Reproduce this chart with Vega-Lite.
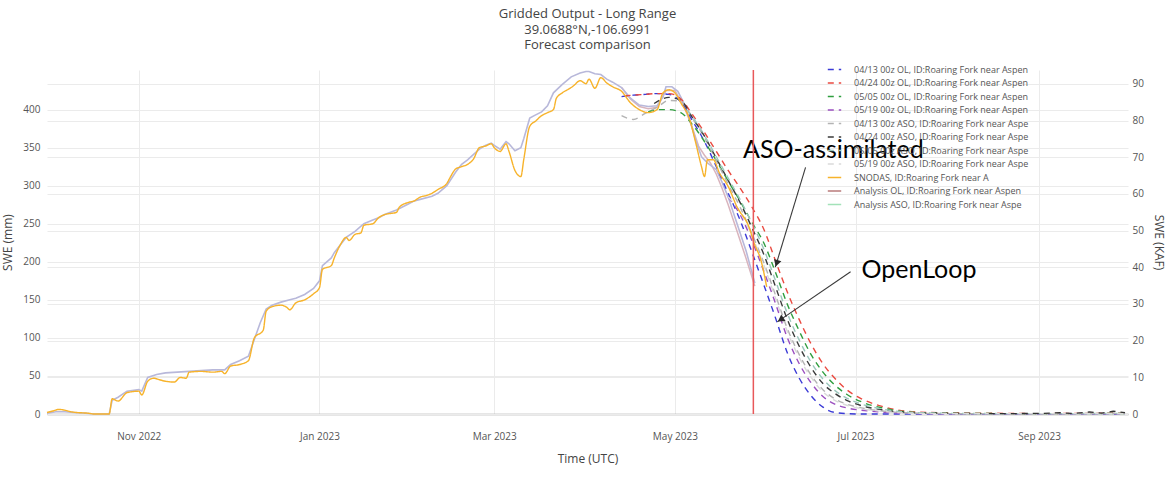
{
  "$schema": "https://vega.github.io/schema/vega-lite/v6.json",
  "width": 1081,
  "height": 344,
  "autosize": {"type": "none"},
  "padding": {"left": 47, "top": 70, "right": 40, "bottom": 63},
  "background": "white",
  "title": {
    "text": ["Gridded Output - Long Range", "39.0688°N,-106.6991", "Forecast comparison"],
    "font": "Open Sans", "fontSize": 13, "fontWeight": "normal", "color": "#444",
    "anchor": "middle", "lineHeight": 15.5, "offset": 8
  },
  "config": {
    "view": {"stroke": null},
    "axis": {
      "domain": false, "ticks": false,
      "labelFont": "Open Sans", "labelFontSize": 10, "labelColor": "#555",
      "titleFont": "Open Sans", "titleFontSize": 12, "titleFontWeight": "normal", "titleColor": "#444",
      "gridColor": "#ebebeb", "gridWidth": 1
    }
  },
  "datasets": {
    "main": [
      {"series": "04/13 00z OL, ID:Roaring Fork near Aspen", "date": "2023-04-13", "swe": 417},
      {"series": "04/13 00z OL, ID:Roaring Fork near Aspen", "date": "2023-04-17", "swe": 419},
      {"series": "04/13 00z OL, ID:Roaring Fork near Aspen", "date": "2023-04-21", "swe": 420},
      {"series": "04/13 00z OL, ID:Roaring Fork near Aspen", "date": "2023-04-25", "swe": 421},
      {"series": "04/13 00z OL, ID:Roaring Fork near Aspen", "date": "2023-04-29", "swe": 420},
      {"series": "04/13 00z OL, ID:Roaring Fork near Aspen", "date": "2023-05-03", "swe": 410},
      {"series": "04/13 00z OL, ID:Roaring Fork near Aspen", "date": "2023-05-07", "swe": 385},
      {"series": "04/13 00z OL, ID:Roaring Fork near Aspen", "date": "2023-05-11", "swe": 358},
      {"series": "04/13 00z OL, ID:Roaring Fork near Aspen", "date": "2023-05-15", "swe": 325},
      {"series": "04/13 00z OL, ID:Roaring Fork near Aspen", "date": "2023-05-19", "swe": 290},
      {"series": "04/13 00z OL, ID:Roaring Fork near Aspen", "date": "2023-05-23", "swe": 255},
      {"series": "04/13 00z OL, ID:Roaring Fork near Aspen", "date": "2023-05-27", "swe": 213},
      {"series": "04/13 00z OL, ID:Roaring Fork near Aspen", "date": "2023-05-31", "swe": 170},
      {"series": "04/13 00z OL, ID:Roaring Fork near Aspen", "date": "2023-06-04", "swe": 126},
      {"series": "04/13 00z OL, ID:Roaring Fork near Aspen", "date": "2023-06-08", "swe": 80},
      {"series": "04/13 00z OL, ID:Roaring Fork near Aspen", "date": "2023-06-12", "swe": 47},
      {"series": "04/13 00z OL, ID:Roaring Fork near Aspen", "date": "2023-06-16", "swe": 24},
      {"series": "04/13 00z OL, ID:Roaring Fork near Aspen", "date": "2023-06-20", "swe": 9},
      {"series": "04/13 00z OL, ID:Roaring Fork near Aspen", "date": "2023-06-24", "swe": 2},
      {"series": "04/13 00z OL, ID:Roaring Fork near Aspen", "date": "2023-06-28", "swe": 0.5},
      {"series": "04/13 00z OL, ID:Roaring Fork near Aspen", "date": "2023-07-03", "swe": 0},
      {"series": "04/13 00z OL, ID:Roaring Fork near Aspen", "date": "2023-07-20", "swe": 0},
      {"series": "04/13 00z OL, ID:Roaring Fork near Aspen", "date": "2023-08-15", "swe": 0},
      {"series": "04/13 00z OL, ID:Roaring Fork near Aspen", "date": "2023-09-30", "swe": 0},

      {"series": "04/24 00z OL, ID:Roaring Fork near Aspen", "date": "2023-04-14", "swe": 418},
      {"series": "04/24 00z OL, ID:Roaring Fork near Aspen", "date": "2023-04-17", "swe": 419},
      {"series": "04/24 00z OL, ID:Roaring Fork near Aspen", "date": "2023-04-21", "swe": 420},
      {"series": "04/24 00z OL, ID:Roaring Fork near Aspen", "date": "2023-04-25", "swe": 421},
      {"series": "04/24 00z OL, ID:Roaring Fork near Aspen", "date": "2023-04-29", "swe": 421},
      {"series": "04/24 00z OL, ID:Roaring Fork near Aspen", "date": "2023-05-03", "swe": 414},
      {"series": "04/24 00z OL, ID:Roaring Fork near Aspen", "date": "2023-05-07", "swe": 393},
      {"series": "04/24 00z OL, ID:Roaring Fork near Aspen", "date": "2023-05-11", "swe": 370},
      {"series": "04/24 00z OL, ID:Roaring Fork near Aspen", "date": "2023-05-15", "swe": 345},
      {"series": "04/24 00z OL, ID:Roaring Fork near Aspen", "date": "2023-05-19", "swe": 320},
      {"series": "04/24 00z OL, ID:Roaring Fork near Aspen", "date": "2023-05-23", "swe": 297},
      {"series": "04/24 00z OL, ID:Roaring Fork near Aspen", "date": "2023-05-27", "swe": 272},
      {"series": "04/24 00z OL, ID:Roaring Fork near Aspen", "date": "2023-05-31", "swe": 243},
      {"series": "04/24 00z OL, ID:Roaring Fork near Aspen", "date": "2023-06-04", "swe": 201},
      {"series": "04/24 00z OL, ID:Roaring Fork near Aspen", "date": "2023-06-08", "swe": 160},
      {"series": "04/24 00z OL, ID:Roaring Fork near Aspen", "date": "2023-06-12", "swe": 124},
      {"series": "04/24 00z OL, ID:Roaring Fork near Aspen", "date": "2023-06-16", "swe": 92},
      {"series": "04/24 00z OL, ID:Roaring Fork near Aspen", "date": "2023-06-20", "swe": 66},
      {"series": "04/24 00z OL, ID:Roaring Fork near Aspen", "date": "2023-06-24", "swe": 47},
      {"series": "04/24 00z OL, ID:Roaring Fork near Aspen", "date": "2023-06-28", "swe": 32},
      {"series": "04/24 00z OL, ID:Roaring Fork near Aspen", "date": "2023-07-03", "swe": 20},
      {"series": "04/24 00z OL, ID:Roaring Fork near Aspen", "date": "2023-07-10", "swe": 10},
      {"series": "04/24 00z OL, ID:Roaring Fork near Aspen", "date": "2023-07-20", "swe": 3},
      {"series": "04/24 00z OL, ID:Roaring Fork near Aspen", "date": "2023-08-01", "swe": 1.5},
      {"series": "04/24 00z OL, ID:Roaring Fork near Aspen", "date": "2023-08-15", "swe": 1},
      {"series": "04/24 00z OL, ID:Roaring Fork near Aspen", "date": "2023-09-01", "swe": 0.5},
      {"series": "04/24 00z OL, ID:Roaring Fork near Aspen", "date": "2023-09-15", "swe": 0.8},
      {"series": "04/24 00z OL, ID:Roaring Fork near Aspen", "date": "2023-09-30", "swe": 1},

      {"series": "05/05 00z OL, ID:Roaring Fork near Aspen", "date": "2023-04-22", "swe": 397},
      {"series": "05/05 00z OL, ID:Roaring Fork near Aspen", "date": "2023-04-25", "swe": 400},
      {"series": "05/05 00z OL, ID:Roaring Fork near Aspen", "date": "2023-04-29", "swe": 400},
      {"series": "05/05 00z OL, ID:Roaring Fork near Aspen", "date": "2023-05-03", "swe": 396},
      {"series": "05/05 00z OL, ID:Roaring Fork near Aspen", "date": "2023-05-07", "swe": 380},
      {"series": "05/05 00z OL, ID:Roaring Fork near Aspen", "date": "2023-05-11", "swe": 358},
      {"series": "05/05 00z OL, ID:Roaring Fork near Aspen", "date": "2023-05-15", "swe": 333},
      {"series": "05/05 00z OL, ID:Roaring Fork near Aspen", "date": "2023-05-19", "swe": 306},
      {"series": "05/05 00z OL, ID:Roaring Fork near Aspen", "date": "2023-05-23", "swe": 280},
      {"series": "05/05 00z OL, ID:Roaring Fork near Aspen", "date": "2023-05-27", "swe": 252},
      {"series": "05/05 00z OL, ID:Roaring Fork near Aspen", "date": "2023-05-31", "swe": 225},
      {"series": "05/05 00z OL, ID:Roaring Fork near Aspen", "date": "2023-06-04", "swe": 186},
      {"series": "05/05 00z OL, ID:Roaring Fork near Aspen", "date": "2023-06-08", "swe": 144},
      {"series": "05/05 00z OL, ID:Roaring Fork near Aspen", "date": "2023-06-12", "swe": 109},
      {"series": "05/05 00z OL, ID:Roaring Fork near Aspen", "date": "2023-06-16", "swe": 78},
      {"series": "05/05 00z OL, ID:Roaring Fork near Aspen", "date": "2023-06-20", "swe": 55},
      {"series": "05/05 00z OL, ID:Roaring Fork near Aspen", "date": "2023-06-24", "swe": 38},
      {"series": "05/05 00z OL, ID:Roaring Fork near Aspen", "date": "2023-06-28", "swe": 26},
      {"series": "05/05 00z OL, ID:Roaring Fork near Aspen", "date": "2023-07-03", "swe": 16},
      {"series": "05/05 00z OL, ID:Roaring Fork near Aspen", "date": "2023-07-10", "swe": 8},
      {"series": "05/05 00z OL, ID:Roaring Fork near Aspen", "date": "2023-07-20", "swe": 2.4},
      {"series": "05/05 00z OL, ID:Roaring Fork near Aspen", "date": "2023-08-01", "swe": 1},
      {"series": "05/05 00z OL, ID:Roaring Fork near Aspen", "date": "2023-08-15", "swe": 0.6},
      {"series": "05/05 00z OL, ID:Roaring Fork near Aspen", "date": "2023-09-01", "swe": 0.4},
      {"series": "05/05 00z OL, ID:Roaring Fork near Aspen", "date": "2023-09-15", "swe": 0.5},
      {"series": "05/05 00z OL, ID:Roaring Fork near Aspen", "date": "2023-09-30", "swe": 0.6},

      {"series": "05/19 00z OL, ID:Roaring Fork near Aspen", "date": "2023-05-19", "swe": 285},
      {"series": "05/19 00z OL, ID:Roaring Fork near Aspen", "date": "2023-05-23", "swe": 262},
      {"series": "05/19 00z OL, ID:Roaring Fork near Aspen", "date": "2023-05-27", "swe": 228},
      {"series": "05/19 00z OL, ID:Roaring Fork near Aspen", "date": "2023-05-31", "swe": 188},
      {"series": "05/19 00z OL, ID:Roaring Fork near Aspen", "date": "2023-06-04", "swe": 145},
      {"series": "05/19 00z OL, ID:Roaring Fork near Aspen", "date": "2023-06-08", "swe": 100},
      {"series": "05/19 00z OL, ID:Roaring Fork near Aspen", "date": "2023-06-12", "swe": 66},
      {"series": "05/19 00z OL, ID:Roaring Fork near Aspen", "date": "2023-06-16", "swe": 41},
      {"series": "05/19 00z OL, ID:Roaring Fork near Aspen", "date": "2023-06-20", "swe": 23},
      {"series": "05/19 00z OL, ID:Roaring Fork near Aspen", "date": "2023-06-24", "swe": 13},
      {"series": "05/19 00z OL, ID:Roaring Fork near Aspen", "date": "2023-06-28", "swe": 8},
      {"series": "05/19 00z OL, ID:Roaring Fork near Aspen", "date": "2023-07-03", "swe": 5},
      {"series": "05/19 00z OL, ID:Roaring Fork near Aspen", "date": "2023-07-10", "swe": 2.5},
      {"series": "05/19 00z OL, ID:Roaring Fork near Aspen", "date": "2023-07-20", "swe": 0.8},
      {"series": "05/19 00z OL, ID:Roaring Fork near Aspen", "date": "2023-08-01", "swe": 0.3},
      {"series": "05/19 00z OL, ID:Roaring Fork near Aspen", "date": "2023-08-15", "swe": 0.2},
      {"series": "05/19 00z OL, ID:Roaring Fork near Aspen", "date": "2023-09-01", "swe": 0.2},
      {"series": "05/19 00z OL, ID:Roaring Fork near Aspen", "date": "2023-09-30", "swe": 0.3},

      {"series": "04/13 00z ASO, ID:Roaring Fork near Aspe", "date": "2023-04-13", "swe": 392},
      {"series": "04/13 00z ASO, ID:Roaring Fork near Aspe", "date": "2023-04-17", "swe": 387},
      {"series": "04/13 00z ASO, ID:Roaring Fork near Aspe", "date": "2023-04-21", "swe": 395},
      {"series": "04/13 00z ASO, ID:Roaring Fork near Aspe", "date": "2023-04-25", "swe": 403},
      {"series": "04/13 00z ASO, ID:Roaring Fork near Aspe", "date": "2023-04-29", "swe": 412},
      {"series": "04/13 00z ASO, ID:Roaring Fork near Aspe", "date": "2023-05-03", "swe": 411},
      {"series": "04/13 00z ASO, ID:Roaring Fork near Aspe", "date": "2023-05-07", "swe": 388},
      {"series": "04/13 00z ASO, ID:Roaring Fork near Aspe", "date": "2023-05-11", "swe": 363},
      {"series": "04/13 00z ASO, ID:Roaring Fork near Aspe", "date": "2023-05-15", "swe": 333},
      {"series": "04/13 00z ASO, ID:Roaring Fork near Aspe", "date": "2023-05-19", "swe": 302},
      {"series": "04/13 00z ASO, ID:Roaring Fork near Aspe", "date": "2023-05-23", "swe": 272},
      {"series": "04/13 00z ASO, ID:Roaring Fork near Aspe", "date": "2023-05-27", "swe": 237},
      {"series": "04/13 00z ASO, ID:Roaring Fork near Aspe", "date": "2023-05-31", "swe": 199},
      {"series": "04/13 00z ASO, ID:Roaring Fork near Aspe", "date": "2023-06-04", "swe": 156},
      {"series": "04/13 00z ASO, ID:Roaring Fork near Aspe", "date": "2023-06-08", "swe": 112},
      {"series": "04/13 00z ASO, ID:Roaring Fork near Aspe", "date": "2023-06-12", "swe": 78},
      {"series": "04/13 00z ASO, ID:Roaring Fork near Aspe", "date": "2023-06-16", "swe": 51},
      {"series": "04/13 00z ASO, ID:Roaring Fork near Aspe", "date": "2023-06-20", "swe": 32},
      {"series": "04/13 00z ASO, ID:Roaring Fork near Aspe", "date": "2023-06-24", "swe": 20},
      {"series": "04/13 00z ASO, ID:Roaring Fork near Aspe", "date": "2023-06-28", "swe": 13},
      {"series": "04/13 00z ASO, ID:Roaring Fork near Aspe", "date": "2023-07-03", "swe": 8},
      {"series": "04/13 00z ASO, ID:Roaring Fork near Aspe", "date": "2023-07-10", "swe": 4},
      {"series": "04/13 00z ASO, ID:Roaring Fork near Aspe", "date": "2023-07-20", "swe": 1.2},
      {"series": "04/13 00z ASO, ID:Roaring Fork near Aspe", "date": "2023-08-01", "swe": 0.5},
      {"series": "04/13 00z ASO, ID:Roaring Fork near Aspe", "date": "2023-08-15", "swe": 0.3},
      {"series": "04/13 00z ASO, ID:Roaring Fork near Aspe", "date": "2023-09-01", "swe": 0.3},
      {"series": "04/13 00z ASO, ID:Roaring Fork near Aspe", "date": "2023-09-30", "swe": 0.5},

      {"series": "04/24 00z ASO, ID:Roaring Fork near Aspe", "date": "2023-04-24", "swe": 408},
      {"series": "04/24 00z ASO, ID:Roaring Fork near Aspe", "date": "2023-04-29", "swe": 416},
      {"series": "04/24 00z ASO, ID:Roaring Fork near Aspe", "date": "2023-05-03", "swe": 412},
      {"series": "04/24 00z ASO, ID:Roaring Fork near Aspe", "date": "2023-05-07", "swe": 389},
      {"series": "04/24 00z ASO, ID:Roaring Fork near Aspe", "date": "2023-05-11", "swe": 365},
      {"series": "04/24 00z ASO, ID:Roaring Fork near Aspe", "date": "2023-05-15", "swe": 336},
      {"series": "04/24 00z ASO, ID:Roaring Fork near Aspe", "date": "2023-05-19", "swe": 307},
      {"series": "04/24 00z ASO, ID:Roaring Fork near Aspe", "date": "2023-05-23", "swe": 278},
      {"series": "04/24 00z ASO, ID:Roaring Fork near Aspe", "date": "2023-05-27", "swe": 245},
      {"series": "04/24 00z ASO, ID:Roaring Fork near Aspe", "date": "2023-05-31", "swe": 210},
      {"series": "04/24 00z ASO, ID:Roaring Fork near Aspe", "date": "2023-06-04", "swe": 167},
      {"series": "04/24 00z ASO, ID:Roaring Fork near Aspe", "date": "2023-06-08", "swe": 124},
      {"series": "04/24 00z ASO, ID:Roaring Fork near Aspe", "date": "2023-06-12", "swe": 89},
      {"series": "04/24 00z ASO, ID:Roaring Fork near Aspe", "date": "2023-06-16", "swe": 61},
      {"series": "04/24 00z ASO, ID:Roaring Fork near Aspe", "date": "2023-06-20", "swe": 40},
      {"series": "04/24 00z ASO, ID:Roaring Fork near Aspe", "date": "2023-06-24", "swe": 27},
      {"series": "04/24 00z ASO, ID:Roaring Fork near Aspe", "date": "2023-06-28", "swe": 18},
      {"series": "04/24 00z ASO, ID:Roaring Fork near Aspe", "date": "2023-07-03", "swe": 11},
      {"series": "04/24 00z ASO, ID:Roaring Fork near Aspe", "date": "2023-07-10", "swe": 5.5},
      {"series": "04/24 00z ASO, ID:Roaring Fork near Aspe", "date": "2023-07-20", "swe": 1.7},
      {"series": "04/24 00z ASO, ID:Roaring Fork near Aspe", "date": "2023-08-01", "swe": 0.8},
      {"series": "04/24 00z ASO, ID:Roaring Fork near Aspe", "date": "2023-08-15", "swe": 0.5},

      {"series": "05/05 00z ASO, ID:Roaring Fork near Aspe", "date": "2023-05-05", "swe": 400},
      {"series": "05/05 00z ASO, ID:Roaring Fork near Aspe", "date": "2023-05-07", "swe": 390},
      {"series": "05/05 00z ASO, ID:Roaring Fork near Aspe", "date": "2023-05-11", "swe": 366},
      {"series": "05/05 00z ASO, ID:Roaring Fork near Aspe", "date": "2023-05-15", "swe": 338},
      {"series": "05/05 00z ASO, ID:Roaring Fork near Aspe", "date": "2023-05-19", "swe": 310},
      {"series": "05/05 00z ASO, ID:Roaring Fork near Aspe", "date": "2023-05-23", "swe": 282},
      {"series": "05/05 00z ASO, ID:Roaring Fork near Aspe", "date": "2023-05-27", "swe": 251},
      {"series": "05/05 00z ASO, ID:Roaring Fork near Aspe", "date": "2023-05-31", "swe": 217},
      {"series": "05/05 00z ASO, ID:Roaring Fork near Aspe", "date": "2023-06-04", "swe": 175},
      {"series": "05/05 00z ASO, ID:Roaring Fork near Aspe", "date": "2023-06-08", "swe": 132},
      {"series": "05/05 00z ASO, ID:Roaring Fork near Aspe", "date": "2023-06-12", "swe": 97},
      {"series": "05/05 00z ASO, ID:Roaring Fork near Aspe", "date": "2023-06-16", "swe": 68},
      {"series": "05/05 00z ASO, ID:Roaring Fork near Aspe", "date": "2023-06-20", "swe": 46},
      {"series": "05/05 00z ASO, ID:Roaring Fork near Aspe", "date": "2023-06-24", "swe": 31},
      {"series": "05/05 00z ASO, ID:Roaring Fork near Aspe", "date": "2023-06-28", "swe": 21},
      {"series": "05/05 00z ASO, ID:Roaring Fork near Aspe", "date": "2023-07-03", "swe": 13},
      {"series": "05/05 00z ASO, ID:Roaring Fork near Aspe", "date": "2023-07-10", "swe": 6.5},
      {"series": "05/05 00z ASO, ID:Roaring Fork near Aspe", "date": "2023-07-20", "swe": 2},
      {"series": "05/05 00z ASO, ID:Roaring Fork near Aspe", "date": "2023-08-01", "swe": 0.9},
      {"series": "05/05 00z ASO, ID:Roaring Fork near Aspe", "date": "2023-08-15", "swe": 0.6},
      {"series": "05/05 00z ASO, ID:Roaring Fork near Aspe", "date": "2023-09-01", "swe": 0.5},
      {"series": "05/05 00z ASO, ID:Roaring Fork near Aspe", "date": "2023-09-30", "swe": 0.7},

      {"series": "05/19 00z ASO, ID:Roaring Fork near Aspe", "date": "2023-05-19", "swe": 285},
      {"series": "05/19 00z ASO, ID:Roaring Fork near Aspe", "date": "2023-05-23", "swe": 266},
      {"series": "05/19 00z ASO, ID:Roaring Fork near Aspe", "date": "2023-05-27", "swe": 234},
      {"series": "05/19 00z ASO, ID:Roaring Fork near Aspe", "date": "2023-05-31", "swe": 196},
      {"series": "05/19 00z ASO, ID:Roaring Fork near Aspe", "date": "2023-06-04", "swe": 152},
      {"series": "05/19 00z ASO, ID:Roaring Fork near Aspe", "date": "2023-06-08", "swe": 108},
      {"series": "05/19 00z ASO, ID:Roaring Fork near Aspe", "date": "2023-06-12", "swe": 74},
      {"series": "05/19 00z ASO, ID:Roaring Fork near Aspe", "date": "2023-06-16", "swe": 48},
      {"series": "05/19 00z ASO, ID:Roaring Fork near Aspe", "date": "2023-06-20", "swe": 29},
      {"series": "05/19 00z ASO, ID:Roaring Fork near Aspe", "date": "2023-06-24", "swe": 18},
      {"series": "05/19 00z ASO, ID:Roaring Fork near Aspe", "date": "2023-06-28", "swe": 11.5},
      {"series": "05/19 00z ASO, ID:Roaring Fork near Aspe", "date": "2023-07-03", "swe": 7},
      {"series": "05/19 00z ASO, ID:Roaring Fork near Aspe", "date": "2023-07-10", "swe": 3.5},
      {"series": "05/19 00z ASO, ID:Roaring Fork near Aspe", "date": "2023-07-20", "swe": 1},
      {"series": "05/19 00z ASO, ID:Roaring Fork near Aspe", "date": "2023-08-01", "swe": 0.4},
      {"series": "05/19 00z ASO, ID:Roaring Fork near Aspe", "date": "2023-08-15", "swe": 0.3},
      {"series": "05/19 00z ASO, ID:Roaring Fork near Aspe", "date": "2023-09-01", "swe": 0.3},
      {"series": "05/19 00z ASO, ID:Roaring Fork near Aspe", "date": "2023-09-30", "swe": 0.4},

      {"series": "SNODAS, ID:Roaring Fork near A", "date": "2022-10-01", "swe": 2},
      {"series": "SNODAS, ID:Roaring Fork near A", "date": "2022-10-03", "swe": 4},
      {"series": "SNODAS, ID:Roaring Fork near A", "date": "2022-10-05", "swe": 6},
      {"series": "SNODAS, ID:Roaring Fork near A", "date": "2022-10-07", "swe": 5},
      {"series": "SNODAS, ID:Roaring Fork near A", "date": "2022-10-09", "swe": 3},
      {"series": "SNODAS, ID:Roaring Fork near A", "date": "2022-10-11", "swe": 2},
      {"series": "SNODAS, ID:Roaring Fork near A", "date": "2022-10-13", "swe": 1.5},
      {"series": "SNODAS, ID:Roaring Fork near A", "date": "2022-10-15", "swe": 1},
      {"series": "SNODAS, ID:Roaring Fork near A", "date": "2022-10-17", "swe": 0},
      {"series": "SNODAS, ID:Roaring Fork near A", "date": "2022-10-22", "swe": 0},
      {"series": "SNODAS, ID:Roaring Fork near A", "date": "2022-10-23", "swe": 20},
      {"series": "SNODAS, ID:Roaring Fork near A", "date": "2022-10-25", "swe": 17},
      {"series": "SNODAS, ID:Roaring Fork near A", "date": "2022-10-28", "swe": 28},
      {"series": "SNODAS, ID:Roaring Fork near A", "date": "2022-11-01", "swe": 30},
      {"series": "SNODAS, ID:Roaring Fork near A", "date": "2022-11-02", "swe": 25},
      {"series": "SNODAS, ID:Roaring Fork near A", "date": "2022-11-04", "swe": 43},
      {"series": "SNODAS, ID:Roaring Fork near A", "date": "2022-11-06", "swe": 47},
      {"series": "SNODAS, ID:Roaring Fork near A", "date": "2022-11-08", "swe": 45},
      {"series": "SNODAS, ID:Roaring Fork near A", "date": "2022-11-10", "swe": 43},
      {"series": "SNODAS, ID:Roaring Fork near A", "date": "2022-11-13", "swe": 42},
      {"series": "SNODAS, ID:Roaring Fork near A", "date": "2022-11-15", "swe": 48},
      {"series": "SNODAS, ID:Roaring Fork near A", "date": "2022-11-17", "swe": 47},
      {"series": "SNODAS, ID:Roaring Fork near A", "date": "2022-11-18", "swe": 55},
      {"series": "SNODAS, ID:Roaring Fork near A", "date": "2022-11-22", "swe": 56},
      {"series": "SNODAS, ID:Roaring Fork near A", "date": "2022-11-26", "swe": 55},
      {"series": "SNODAS, ID:Roaring Fork near A", "date": "2022-11-29", "swe": 56},
      {"series": "SNODAS, ID:Roaring Fork near A", "date": "2022-11-30", "swe": 53},
      {"series": "SNODAS, ID:Roaring Fork near A", "date": "2022-12-02", "swe": 63},
      {"series": "SNODAS, ID:Roaring Fork near A", "date": "2022-12-05", "swe": 65},
      {"series": "SNODAS, ID:Roaring Fork near A", "date": "2022-12-08", "swe": 70},
      {"series": "SNODAS, ID:Roaring Fork near A", "date": "2022-12-10", "swe": 100},
      {"series": "SNODAS, ID:Roaring Fork near A", "date": "2022-12-13", "swe": 110},
      {"series": "SNODAS, ID:Roaring Fork near A", "date": "2022-12-14", "swe": 135},
      {"series": "SNODAS, ID:Roaring Fork near A", "date": "2022-12-16", "swe": 141},
      {"series": "SNODAS, ID:Roaring Fork near A", "date": "2022-12-19", "swe": 143},
      {"series": "SNODAS, ID:Roaring Fork near A", "date": "2022-12-21", "swe": 140},
      {"series": "SNODAS, ID:Roaring Fork near A", "date": "2022-12-22", "swe": 137},
      {"series": "SNODAS, ID:Roaring Fork near A", "date": "2022-12-24", "swe": 146},
      {"series": "SNODAS, ID:Roaring Fork near A", "date": "2022-12-27", "swe": 150},
      {"series": "SNODAS, ID:Roaring Fork near A", "date": "2022-12-30", "swe": 158},
      {"series": "SNODAS, ID:Roaring Fork near A", "date": "2023-01-01", "swe": 166},
      {"series": "SNODAS, ID:Roaring Fork near A", "date": "2023-01-02", "swe": 190},
      {"series": "SNODAS, ID:Roaring Fork near A", "date": "2023-01-05", "swe": 195},
      {"series": "SNODAS, ID:Roaring Fork near A", "date": "2023-01-06", "swe": 205},
      {"series": "SNODAS, ID:Roaring Fork near A", "date": "2023-01-08", "swe": 222},
      {"series": "SNODAS, ID:Roaring Fork near A", "date": "2023-01-10", "swe": 232},
      {"series": "SNODAS, ID:Roaring Fork near A", "date": "2023-01-11", "swe": 228},
      {"series": "SNODAS, ID:Roaring Fork near A", "date": "2023-01-13", "swe": 236},
      {"series": "SNODAS, ID:Roaring Fork near A", "date": "2023-01-15", "swe": 238},
      {"series": "SNODAS, ID:Roaring Fork near A", "date": "2023-01-16", "swe": 248},
      {"series": "SNODAS, ID:Roaring Fork near A", "date": "2023-01-19", "swe": 250},
      {"series": "SNODAS, ID:Roaring Fork near A", "date": "2023-01-21", "swe": 258},
      {"series": "SNODAS, ID:Roaring Fork near A", "date": "2023-01-23", "swe": 262},
      {"series": "SNODAS, ID:Roaring Fork near A", "date": "2023-01-27", "swe": 265},
      {"series": "SNODAS, ID:Roaring Fork near A", "date": "2023-01-28", "swe": 272},
      {"series": "SNODAS, ID:Roaring Fork near A", "date": "2023-01-31", "swe": 278},
      {"series": "SNODAS, ID:Roaring Fork near A", "date": "2023-02-02", "swe": 280},
      {"series": "SNODAS, ID:Roaring Fork near A", "date": "2023-02-04", "swe": 285},
      {"series": "SNODAS, ID:Roaring Fork near A", "date": "2023-02-06", "swe": 287},
      {"series": "SNODAS, ID:Roaring Fork near A", "date": "2023-02-08", "swe": 290},
      {"series": "SNODAS, ID:Roaring Fork near A", "date": "2023-02-10", "swe": 295},
      {"series": "SNODAS, ID:Roaring Fork near A", "date": "2023-02-13", "swe": 303},
      {"series": "SNODAS, ID:Roaring Fork near A", "date": "2023-02-14", "swe": 310},
      {"series": "SNODAS, ID:Roaring Fork near A", "date": "2023-02-16", "swe": 322},
      {"series": "SNODAS, ID:Roaring Fork near A", "date": "2023-02-18", "swe": 325},
      {"series": "SNODAS, ID:Roaring Fork near A", "date": "2023-02-20", "swe": 328},
      {"series": "SNODAS, ID:Roaring Fork near A", "date": "2023-02-22", "swe": 335},
      {"series": "SNODAS, ID:Roaring Fork near A", "date": "2023-02-24", "swe": 350},
      {"series": "SNODAS, ID:Roaring Fork near A", "date": "2023-02-26", "swe": 352},
      {"series": "SNODAS, ID:Roaring Fork near A", "date": "2023-02-28", "swe": 355},
      {"series": "SNODAS, ID:Roaring Fork near A", "date": "2023-03-01", "swe": 350},
      {"series": "SNODAS, ID:Roaring Fork near A", "date": "2023-03-03", "swe": 345},
      {"series": "SNODAS, ID:Roaring Fork near A", "date": "2023-03-05", "swe": 355},
      {"series": "SNODAS, ID:Roaring Fork near A", "date": "2023-03-06", "swe": 345},
      {"series": "SNODAS, ID:Roaring Fork near A", "date": "2023-03-08", "swe": 320},
      {"series": "SNODAS, ID:Roaring Fork near A", "date": "2023-03-10", "swe": 312},
      {"series": "SNODAS, ID:Roaring Fork near A", "date": "2023-03-11", "swe": 335},
      {"series": "SNODAS, ID:Roaring Fork near A", "date": "2023-03-13", "swe": 378},
      {"series": "SNODAS, ID:Roaring Fork near A", "date": "2023-03-15", "swe": 385},
      {"series": "SNODAS, ID:Roaring Fork near A", "date": "2023-03-17", "swe": 392},
      {"series": "SNODAS, ID:Roaring Fork near A", "date": "2023-03-19", "swe": 396},
      {"series": "SNODAS, ID:Roaring Fork near A", "date": "2023-03-21", "swe": 400},
      {"series": "SNODAS, ID:Roaring Fork near A", "date": "2023-03-22", "swe": 415},
      {"series": "SNODAS, ID:Roaring Fork near A", "date": "2023-03-24", "swe": 422},
      {"series": "SNODAS, ID:Roaring Fork near A", "date": "2023-03-27", "swe": 429},
      {"series": "SNODAS, ID:Roaring Fork near A", "date": "2023-03-28", "swe": 432},
      {"series": "SNODAS, ID:Roaring Fork near A", "date": "2023-03-30", "swe": 438},
      {"series": "SNODAS, ID:Roaring Fork near A", "date": "2023-04-01", "swe": 434},
      {"series": "SNODAS, ID:Roaring Fork near A", "date": "2023-04-02", "swe": 440},
      {"series": "SNODAS, ID:Roaring Fork near A", "date": "2023-04-04", "swe": 428},
      {"series": "SNODAS, ID:Roaring Fork near A", "date": "2023-04-06", "swe": 442},
      {"series": "SNODAS, ID:Roaring Fork near A", "date": "2023-04-08", "swe": 435},
      {"series": "SNODAS, ID:Roaring Fork near A", "date": "2023-04-10", "swe": 430},
      {"series": "SNODAS, ID:Roaring Fork near A", "date": "2023-04-13", "swe": 424},
      {"series": "SNODAS, ID:Roaring Fork near A", "date": "2023-04-16", "swe": 409},
      {"series": "SNODAS, ID:Roaring Fork near A", "date": "2023-04-19", "swe": 400},
      {"series": "SNODAS, ID:Roaring Fork near A", "date": "2023-04-22", "swe": 396},
      {"series": "SNODAS, ID:Roaring Fork near A", "date": "2023-04-25", "swe": 400},
      {"series": "SNODAS, ID:Roaring Fork near A", "date": "2023-04-27", "swe": 422},
      {"series": "SNODAS, ID:Roaring Fork near A", "date": "2023-04-29", "swe": 426},
      {"series": "SNODAS, ID:Roaring Fork near A", "date": "2023-05-01", "swe": 422},
      {"series": "SNODAS, ID:Roaring Fork near A", "date": "2023-05-03", "swe": 409},
      {"series": "SNODAS, ID:Roaring Fork near A", "date": "2023-05-06", "swe": 387},
      {"series": "SNODAS, ID:Roaring Fork near A", "date": "2023-05-08", "swe": 357},
      {"series": "SNODAS, ID:Roaring Fork near A", "date": "2023-05-10", "swe": 325},
      {"series": "SNODAS, ID:Roaring Fork near A", "date": "2023-05-11", "swe": 312},
      {"series": "SNODAS, ID:Roaring Fork near A", "date": "2023-05-12", "swe": 334},
      {"series": "SNODAS, ID:Roaring Fork near A", "date": "2023-05-14", "swe": 334},
      {"series": "SNODAS, ID:Roaring Fork near A", "date": "2023-05-16", "swe": 317},
      {"series": "SNODAS, ID:Roaring Fork near A", "date": "2023-05-19", "swe": 299},
      {"series": "SNODAS, ID:Roaring Fork near A", "date": "2023-05-22", "swe": 272},
      {"series": "SNODAS, ID:Roaring Fork near A", "date": "2023-05-26", "swe": 246},
      {"series": "SNODAS, ID:Roaring Fork near A", "date": "2023-05-28", "swe": 222},
      {"series": "SNODAS, ID:Roaring Fork near A", "date": "2023-05-30", "swe": 203},
      {"series": "SNODAS, ID:Roaring Fork near A", "date": "2023-06-01", "swe": 167}
    ],
    "analysisASO": [
      {"series": "Analysis ASO, ID:Roaring Fork near Aspe", "date": "2022-10-01", "swe": 1},
      {"series": "Analysis ASO, ID:Roaring Fork near Aspe", "date": "2022-10-04", "swe": 3},
      {"series": "Analysis ASO, ID:Roaring Fork near Aspe", "date": "2022-10-07", "swe": 3},
      {"series": "Analysis ASO, ID:Roaring Fork near Aspe", "date": "2022-10-10", "swe": 2},
      {"series": "Analysis ASO, ID:Roaring Fork near Aspe", "date": "2022-10-14", "swe": 1},
      {"series": "Analysis ASO, ID:Roaring Fork near Aspe", "date": "2022-10-17", "swe": 0},
      {"series": "Analysis ASO, ID:Roaring Fork near Aspe", "date": "2022-10-22", "swe": 0},
      {"series": "Analysis ASO, ID:Roaring Fork near Aspe", "date": "2022-10-23", "swe": 18},
      {"series": "Analysis ASO, ID:Roaring Fork near Aspe", "date": "2022-10-25", "swe": 22},
      {"series": "Analysis ASO, ID:Roaring Fork near Aspe", "date": "2022-10-28", "swe": 30},
      {"series": "Analysis ASO, ID:Roaring Fork near Aspe", "date": "2022-11-01", "swe": 32},
      {"series": "Analysis ASO, ID:Roaring Fork near Aspe", "date": "2022-11-02", "swe": 30},
      {"series": "Analysis ASO, ID:Roaring Fork near Aspe", "date": "2022-11-04", "swe": 48},
      {"series": "Analysis ASO, ID:Roaring Fork near Aspe", "date": "2022-11-07", "swe": 52},
      {"series": "Analysis ASO, ID:Roaring Fork near Aspe", "date": "2022-11-10", "swe": 54},
      {"series": "Analysis ASO, ID:Roaring Fork near Aspe", "date": "2022-11-14", "swe": 55},
      {"series": "Analysis ASO, ID:Roaring Fork near Aspe", "date": "2022-11-18", "swe": 56},
      {"series": "Analysis ASO, ID:Roaring Fork near Aspe", "date": "2022-11-22", "swe": 57},
      {"series": "Analysis ASO, ID:Roaring Fork near Aspe", "date": "2022-11-26", "swe": 58},
      {"series": "Analysis ASO, ID:Roaring Fork near Aspe", "date": "2022-11-30", "swe": 58},
      {"series": "Analysis ASO, ID:Roaring Fork near Aspe", "date": "2022-12-02", "swe": 65},
      {"series": "Analysis ASO, ID:Roaring Fork near Aspe", "date": "2022-12-05", "swe": 70},
      {"series": "Analysis ASO, ID:Roaring Fork near Aspe", "date": "2022-12-08", "swe": 76},
      {"series": "Analysis ASO, ID:Roaring Fork near Aspe", "date": "2022-12-10", "swe": 98},
      {"series": "Analysis ASO, ID:Roaring Fork near Aspe", "date": "2022-12-12", "swe": 120},
      {"series": "Analysis ASO, ID:Roaring Fork near Aspe", "date": "2022-12-14", "swe": 138},
      {"series": "Analysis ASO, ID:Roaring Fork near Aspe", "date": "2022-12-16", "swe": 143},
      {"series": "Analysis ASO, ID:Roaring Fork near Aspe", "date": "2022-12-19", "swe": 147},
      {"series": "Analysis ASO, ID:Roaring Fork near Aspe", "date": "2022-12-22", "swe": 150},
      {"series": "Analysis ASO, ID:Roaring Fork near Aspe", "date": "2022-12-24", "swe": 152},
      {"series": "Analysis ASO, ID:Roaring Fork near Aspe", "date": "2022-12-27", "swe": 157},
      {"series": "Analysis ASO, ID:Roaring Fork near Aspe", "date": "2022-12-30", "swe": 165},
      {"series": "Analysis ASO, ID:Roaring Fork near Aspe", "date": "2023-01-01", "swe": 175},
      {"series": "Analysis ASO, ID:Roaring Fork near Aspe", "date": "2023-01-02", "swe": 195},
      {"series": "Analysis ASO, ID:Roaring Fork near Aspe", "date": "2023-01-05", "swe": 205},
      {"series": "Analysis ASO, ID:Roaring Fork near Aspe", "date": "2023-01-06", "swe": 212},
      {"series": "Analysis ASO, ID:Roaring Fork near Aspe", "date": "2023-01-08", "swe": 222},
      {"series": "Analysis ASO, ID:Roaring Fork near Aspe", "date": "2023-01-10", "swe": 232},
      {"series": "Analysis ASO, ID:Roaring Fork near Aspe", "date": "2023-01-13", "swe": 240},
      {"series": "Analysis ASO, ID:Roaring Fork near Aspe", "date": "2023-01-16", "swe": 250},
      {"series": "Analysis ASO, ID:Roaring Fork near Aspe", "date": "2023-01-19", "swe": 255},
      {"series": "Analysis ASO, ID:Roaring Fork near Aspe", "date": "2023-01-21", "swe": 258},
      {"series": "Analysis ASO, ID:Roaring Fork near Aspe", "date": "2023-01-23", "swe": 262},
      {"series": "Analysis ASO, ID:Roaring Fork near Aspe", "date": "2023-01-27", "swe": 268},
      {"series": "Analysis ASO, ID:Roaring Fork near Aspe", "date": "2023-01-31", "swe": 276},
      {"series": "Analysis ASO, ID:Roaring Fork near Aspe", "date": "2023-02-02", "swe": 280},
      {"series": "Analysis ASO, ID:Roaring Fork near Aspe", "date": "2023-02-04", "swe": 282},
      {"series": "Analysis ASO, ID:Roaring Fork near Aspe", "date": "2023-02-08", "swe": 286},
      {"series": "Analysis ASO, ID:Roaring Fork near Aspe", "date": "2023-02-10", "swe": 290},
      {"series": "Analysis ASO, ID:Roaring Fork near Aspe", "date": "2023-02-13", "swe": 300},
      {"series": "Analysis ASO, ID:Roaring Fork near Aspe", "date": "2023-02-16", "swe": 318},
      {"series": "Analysis ASO, ID:Roaring Fork near Aspe", "date": "2023-02-18", "swe": 328},
      {"series": "Analysis ASO, ID:Roaring Fork near Aspe", "date": "2023-02-20", "swe": 334},
      {"series": "Analysis ASO, ID:Roaring Fork near Aspe", "date": "2023-02-24", "swe": 348},
      {"series": "Analysis ASO, ID:Roaring Fork near Aspe", "date": "2023-02-26", "swe": 353},
      {"series": "Analysis ASO, ID:Roaring Fork near Aspe", "date": "2023-02-28", "swe": 356},
      {"series": "Analysis ASO, ID:Roaring Fork near Aspe", "date": "2023-03-01", "swe": 353},
      {"series": "Analysis ASO, ID:Roaring Fork near Aspe", "date": "2023-03-03", "swe": 348},
      {"series": "Analysis ASO, ID:Roaring Fork near Aspe", "date": "2023-03-05", "swe": 358},
      {"series": "Analysis ASO, ID:Roaring Fork near Aspe", "date": "2023-03-06", "swe": 355},
      {"series": "Analysis ASO, ID:Roaring Fork near Aspe", "date": "2023-03-08", "swe": 346},
      {"series": "Analysis ASO, ID:Roaring Fork near Aspe", "date": "2023-03-10", "swe": 350},
      {"series": "Analysis ASO, ID:Roaring Fork near Aspe", "date": "2023-03-11", "swe": 362},
      {"series": "Analysis ASO, ID:Roaring Fork near Aspe", "date": "2023-03-13", "swe": 389},
      {"series": "Analysis ASO, ID:Roaring Fork near Aspe", "date": "2023-03-15", "swe": 393},
      {"series": "Analysis ASO, ID:Roaring Fork near Aspe", "date": "2023-03-17", "swe": 397},
      {"series": "Analysis ASO, ID:Roaring Fork near Aspe", "date": "2023-03-19", "swe": 405},
      {"series": "Analysis ASO, ID:Roaring Fork near Aspe", "date": "2023-03-21", "swe": 422},
      {"series": "Analysis ASO, ID:Roaring Fork near Aspe", "date": "2023-03-24", "swe": 433},
      {"series": "Analysis ASO, ID:Roaring Fork near Aspe", "date": "2023-03-27", "swe": 443},
      {"series": "Analysis ASO, ID:Roaring Fork near Aspe", "date": "2023-03-30", "swe": 448},
      {"series": "Analysis ASO, ID:Roaring Fork near Aspe", "date": "2023-04-01", "swe": 450},
      {"series": "Analysis ASO, ID:Roaring Fork near Aspe", "date": "2023-04-02", "swe": 450},
      {"series": "Analysis ASO, ID:Roaring Fork near Aspe", "date": "2023-04-04", "swe": 447},
      {"series": "Analysis ASO, ID:Roaring Fork near Aspe", "date": "2023-04-06", "swe": 446},
      {"series": "Analysis ASO, ID:Roaring Fork near Aspe", "date": "2023-04-08", "swe": 440},
      {"series": "Analysis ASO, ID:Roaring Fork near Aspe", "date": "2023-04-10", "swe": 436},
      {"series": "Analysis ASO, ID:Roaring Fork near Aspe", "date": "2023-04-13", "swe": 429},
      {"series": "Analysis ASO, ID:Roaring Fork near Aspe", "date": "2023-04-16", "swe": 415},
      {"series": "Analysis ASO, ID:Roaring Fork near Aspe", "date": "2023-04-19", "swe": 406},
      {"series": "Analysis ASO, ID:Roaring Fork near Aspe", "date": "2023-04-22", "swe": 404},
      {"series": "Analysis ASO, ID:Roaring Fork near Aspe", "date": "2023-04-25", "swe": 405},
      {"series": "Analysis ASO, ID:Roaring Fork near Aspe", "date": "2023-04-27", "swe": 417},
      {"series": "Analysis ASO, ID:Roaring Fork near Aspe", "date": "2023-04-28", "swe": 430},
      {"series": "Analysis ASO, ID:Roaring Fork near Aspe", "date": "2023-04-30", "swe": 430},
      {"series": "Analysis ASO, ID:Roaring Fork near Aspe", "date": "2023-05-02", "swe": 424},
      {"series": "Analysis ASO, ID:Roaring Fork near Aspe", "date": "2023-05-04", "swe": 409},
      {"series": "Analysis ASO, ID:Roaring Fork near Aspe", "date": "2023-05-06", "swe": 387},
      {"series": "Analysis ASO, ID:Roaring Fork near Aspe", "date": "2023-05-08", "swe": 360},
      {"series": "Analysis ASO, ID:Roaring Fork near Aspe", "date": "2023-05-10", "swe": 338},
      {"series": "Analysis ASO, ID:Roaring Fork near Aspe", "date": "2023-05-12", "swe": 330},
      {"series": "Analysis ASO, ID:Roaring Fork near Aspe", "date": "2023-05-15", "swe": 321},
      {"series": "Analysis ASO, ID:Roaring Fork near Aspe", "date": "2023-05-17", "swe": 304},
      {"series": "Analysis ASO, ID:Roaring Fork near Aspe", "date": "2023-05-19", "swe": 285},
      {"series": "Analysis ASO, ID:Roaring Fork near Aspe", "date": "2023-05-22", "swe": 250},
      {"series": "Analysis ASO, ID:Roaring Fork near Aspe", "date": "2023-05-25", "swe": 215},
      {"series": "Analysis ASO, ID:Roaring Fork near Aspe", "date": "2023-05-28", "swe": 172}
    ],
    "analysisOL": [
      {"series": "Analysis OL, ID:Roaring Fork near Aspen", "date": "2023-04-13", "swe": 429},
      {"series": "Analysis OL, ID:Roaring Fork near Aspen", "date": "2023-04-16", "swe": 414},
      {"series": "Analysis OL, ID:Roaring Fork near Aspen", "date": "2023-04-19", "swe": 404},
      {"series": "Analysis OL, ID:Roaring Fork near Aspen", "date": "2023-04-22", "swe": 401},
      {"series": "Analysis OL, ID:Roaring Fork near Aspen", "date": "2023-04-25", "swe": 403},
      {"series": "Analysis OL, ID:Roaring Fork near Aspen", "date": "2023-04-28", "swe": 425},
      {"series": "Analysis OL, ID:Roaring Fork near Aspen", "date": "2023-05-01", "swe": 425},
      {"series": "Analysis OL, ID:Roaring Fork near Aspen", "date": "2023-05-04", "swe": 405},
      {"series": "Analysis OL, ID:Roaring Fork near Aspen", "date": "2023-05-07", "swe": 375},
      {"series": "Analysis OL, ID:Roaring Fork near Aspen", "date": "2023-05-09", "swe": 352},
      {"series": "Analysis OL, ID:Roaring Fork near Aspen", "date": "2023-05-11", "swe": 340},
      {"series": "Analysis OL, ID:Roaring Fork near Aspen", "date": "2023-05-13", "swe": 330},
      {"series": "Analysis OL, ID:Roaring Fork near Aspen", "date": "2023-05-15", "swe": 315},
      {"series": "Analysis OL, ID:Roaring Fork near Aspen", "date": "2023-05-17", "swe": 296},
      {"series": "Analysis OL, ID:Roaring Fork near Aspen", "date": "2023-05-19", "swe": 275},
      {"series": "Analysis OL, ID:Roaring Fork near Aspen", "date": "2023-05-22", "swe": 240},
      {"series": "Analysis OL, ID:Roaring Fork near Aspen", "date": "2023-05-25", "swe": 205},
      {"series": "Analysis OL, ID:Roaring Fork near Aspen", "date": "2023-05-28", "swe": 168}
    ],
    "kafTail": [
      {"date": "2023-08-15", "kaf": 0.1},
      {"date": "2023-09-01", "kaf": 0.15},
      {"date": "2023-09-08", "kaf": 0.35},
      {"date": "2023-09-12", "kaf": 0.15},
      {"date": "2023-09-18", "kaf": 0.55},
      {"date": "2023-09-22", "kaf": 0.25},
      {"date": "2023-09-26", "kaf": 0.75},
      {"date": "2023-09-30", "kaf": 0.4}
    ],
    "notes": [
      {"label": "ASO-assimilated", "date": "2023-05-24", "swe": 347},
      {"label": "OpenLoop", "date": "2023-07-03", "swe": 189}
    ],
    "arrows": [
      {"target": "ASO-assimilated", "date": "2023-06-14T03:00:00Z", "swe": 324, "date2": "2023-06-03T22:00:00Z", "swe2": 193, "hdate": "2023-06-04T09:00:00Z", "hswe": 198},
      {"target": "OpenLoop", "date": "2023-06-29T08:00:00Z", "swe": 187, "date2": "2023-06-04T14:00:00Z", "swe2": 121, "hdate": "2023-06-05T17:00:00Z", "hswe": 124}
    ],
    "now": [
      {"date": "2023-05-27T12:00:00Z"}
    ]
  },
  "encoding": {
    "x": {
      "field": "date", "type": "temporal",
      "scale": {"type": "utc", "domain": [{"year": 2022, "month": 10, "date": 1, "utc": true}, {"year": 2023, "month": 10, "date": 1, "utc": true}]},
      "axis": {
        "title": "Time (UTC)",
        "values": [
          {"year": 2022, "month": 11, "date": 1, "utc": true},
          {"year": 2023, "month": 1, "date": 1, "utc": true},
          {"year": 2023, "month": 3, "date": 1, "utc": true},
          {"year": 2023, "month": 5, "date": 1, "utc": true},
          {"year": 2023, "month": 7, "date": 1, "utc": true},
          {"year": 2023, "month": 9, "date": 1, "utc": true}
        ],
        "format": "%b %Y",
        "labelPadding": 17, "titlePadding": 12, "grid": true
      }
    }
  },
  "layer": [
    {
      "encoding": {
        "y": {
          "field": "swe", "type": "quantitative",
          "scale": {"domain": [0, 452], "nice": false},
          "axis": {
            "title": "SWE (mm)",
            "values": [0, 50, 100, 150, 200, 250, 300, 350, 400],
            "labelPadding": 7, "titlePadding": 8, "grid": true,
            "gridColor": {"condition": {"test": "datum.value === 0", "value": "#9a9a9a"}, "value": "#ebebeb"},
            "gridWidth": {"condition": {"test": "datum.value === 0", "value": 1.6}, "value": 1}
          }
        }
      },
      "layer": [
        {
          "data": {"name": "analysisOL"},
          "mark": {"type": "line", "color": "#d9b4bd", "strokeWidth": 1.5}
        },
        {
          "data": {"name": "analysisASO"},
          "mark": {"type": "line", "color": "#b8b8da", "strokeWidth": 1.6}
        },
        {
          "data": {"name": "main"},
          "mark": {"type": "line", "strokeWidth": 1.4, "interpolate": "monotone"},
          "encoding": {
            "color": {
              "field": "series", "type": "nominal",
              "scale": {
                "domain": [
                  "04/13 00z OL, ID:Roaring Fork near Aspen",
                  "04/24 00z OL, ID:Roaring Fork near Aspen",
                  "05/05 00z OL, ID:Roaring Fork near Aspen",
                  "05/19 00z OL, ID:Roaring Fork near Aspen",
                  "04/13 00z ASO, ID:Roaring Fork near Aspe",
                  "04/24 00z ASO, ID:Roaring Fork near Aspe",
                  "05/05 00z ASO, ID:Roaring Fork near Aspe",
                  "05/19 00z ASO, ID:Roaring Fork near Aspe",
                  "SNODAS, ID:Roaring Fork near A",
                  "Analysis OL, ID:Roaring Fork near Aspen",
                  "Analysis ASO, ID:Roaring Fork near Aspe"
                ],
                "range": ["#3b3bd6", "#ea4a40", "#2f9e3f", "#9b4fc0", "#b3b3b3", "#3a3a3a", "#9cc7bd", "#dadada", "#f7b32b", "#b97a7a", "#a3e2b8"]
              },
              "legend": {
                "title": null, "orient": "none", "legendX": 778, "legendY": -10,
                "labelFont": "Open Sans", "labelFontSize": 9, "labelColor": "#555", "labelLimit": 400,
                "symbolType": "stroke", "symbolSize": 180, "symbolStrokeWidth": 1.5,
                "rowPadding": 0.5, "labelOffset": 12, "padding": 2
              }
            },
            "strokeDash": {
              "field": "series", "type": "nominal",
              "scale": {
                "domain": [
                  "04/13 00z OL, ID:Roaring Fork near Aspen",
                  "04/24 00z OL, ID:Roaring Fork near Aspen",
                  "05/05 00z OL, ID:Roaring Fork near Aspen",
                  "05/19 00z OL, ID:Roaring Fork near Aspen",
                  "04/13 00z ASO, ID:Roaring Fork near Aspe",
                  "04/24 00z ASO, ID:Roaring Fork near Aspe",
                  "05/05 00z ASO, ID:Roaring Fork near Aspe",
                  "05/19 00z ASO, ID:Roaring Fork near Aspe",
                  "SNODAS, ID:Roaring Fork near A",
                  "Analysis OL, ID:Roaring Fork near Aspen",
                  "Analysis ASO, ID:Roaring Fork near Aspe"
                ],
                "range": [[6, 5], [6, 5], [6, 5], [6, 5], [6, 5], [6, 5], [6, 5], [6, 5], [1, 0], [1, 0], [1, 0]]
              },
              "legend": {
                "title": null, "orient": "none", "legendX": 778, "legendY": -10,
                "labelFont": "Open Sans", "labelFontSize": 9, "labelColor": "#555", "labelLimit": 400,
                "symbolType": "stroke", "symbolSize": 180, "symbolStrokeWidth": 1.5,
                "rowPadding": 0.5, "labelOffset": 12, "padding": 2
              }
            }
          }
        },
        {
          "data": {"name": "arrows"},
          "mark": {"type": "rule", "color": "#3a3a3a", "strokeWidth": 1.1},
          "encoding": {
            "x2": {"field": "date2"},
            "y2": {"field": "swe2"}
          }
        },
        {
          "data": {"name": "arrows"},
          "transform": [{"filter": "datum.target == 'ASO-assimilated'"}],
          "mark": {"type": "point", "shape": "triangle-down", "filled": true, "color": "#2a2a2a", "size": 60, "angle": 18, "opacity": 1},
          "encoding": {
            "x": {"field": "hdate", "type": "temporal"},
            "y": {"field": "hswe", "type": "quantitative"}
          }
        },
        {
          "data": {"name": "arrows"},
          "transform": [{"filter": "datum.target == 'OpenLoop'"}],
          "mark": {"type": "point", "shape": "triangle-down", "filled": true, "color": "#2a2a2a", "size": 60, "angle": 56, "opacity": 1},
          "encoding": {
            "x": {"field": "hdate", "type": "temporal"},
            "y": {"field": "hswe", "type": "quantitative"}
          }
        },
        {
          "data": {"name": "notes"},
          "mark": {"type": "text", "align": "left", "baseline": "middle", "font": "Lato", "fontSize": 25, "color": "#000"},
          "encoding": {
            "text": {"field": "label"}
          }
        }
      ]
    },
    {
      "data": {"name": "kafTail"},
      "mark": {"type": "line", "color": "#333", "strokeWidth": 1.3, "strokeDash": [6, 5]},
      "encoding": {
        "y": {
          "field": "kaf", "type": "quantitative",
          "scale": {"domain": [0, 93.8], "nice": false},
          "axis": {
            "orient": "right", "title": "SWE (KAF)",
            "values": [0, 10, 20, 30, 40, 50, 60, 70, 80, 90],
            "labelPadding": 4, "titlePadding": 8, "grid": true
          }
        }
      }
    },
    {
      "data": {"name": "now"},
      "mark": {"type": "rule", "color": "#e8585a", "strokeWidth": 1.5},
      "encoding": {}
    }
  ],
  "resolve": {"scale": {"y": "independent"}}
}
